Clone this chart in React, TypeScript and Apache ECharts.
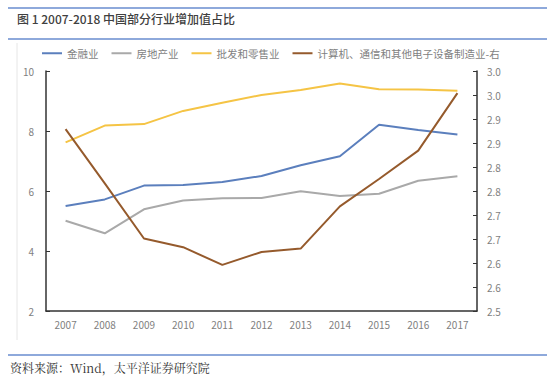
import React, { useEffect, useRef } from "react";
import * as echarts from "echarts";

const years = ["2007", "2008", "2009", "2010", "2011", "2012", "2013", "2014", "2015", "2016", "2017"];
const finance = [5.5, 5.72, 6.18, 6.2, 6.3, 6.5, 6.86, 7.16, 8.21, 8.03, 7.88];
const realEstate = [5.01, 4.59, 5.39, 5.68, 5.76, 5.77, 5.99, 5.83, 5.91, 6.34, 6.49];
const retail = [7.62, 8.18, 8.23, 8.67, 8.94, 9.2, 9.37, 9.58, 9.39, 9.38, 9.34];
const electronics = [2.879, 2.766, 2.651, 2.633, 2.596, 2.623, 2.63, 2.718, 2.775, 2.834, 2.954];

const seriesNames = ["金融业", "房地产业", "批发和零售业", "计算机、通信和其他电子设备制造业-右"];
const colors = ["#5B7FBD", "#A9A9A9", "#F5C445", "#955A2C"];

const FONT = "'Noto Sans CJK SC', 'Noto Sans', sans-serif";

export default function App() {
  const ref = useRef<HTMLDivElement>(null);
  useEffect(() => {
    if (!ref.current) return;
    const chart = echarts.init(ref.current, undefined, { renderer: "svg" });
    const mk = (i: number, data: number[], yAxisIndex: number) => ({
      name: seriesNames[i],
      type: "line",
      yAxisIndex,
      data,
      symbol: "none",
      lineStyle: { color: colors[i], width: 2 },
      itemStyle: { color: colors[i] },
    });
    chart.setOption({
      animation: false,
      backgroundColor: "#ffffff",
      textStyle: { fontFamily: FONT },
      legend: {
        left: 42,
        top: 48,
        padding: 0,
        icon: "rect",
        itemWidth: 20,
        itemHeight: 2,
        itemGap: 13,
        textStyle: { color: "#7F7F7F", fontSize: 10.5, fontFamily: FONT },
        data: seriesNames,
      },
      grid: { left: 46, right: 76, top: 71, bottom: 66 },
      xAxis: {
        type: "category",
        data: years,
        boundaryGap: true,
        axisLine: { lineStyle: { color: "#333333", width: 1.5 } },
        axisTick: { inside: true, length: 4, lineStyle: { color: "#333333" } },
        axisLabel: { color: "#7F7F7F", fontSize: 10, margin: 8, fontFamily: FONT },
        splitLine: { show: false },
      },
      yAxis: [
        {
          type: "value",
          min: 2,
          max: 10,
          interval: 2,
          axisLine: { show: true, lineStyle: { color: "#333333", width: 1.5 } },
          axisTick: { show: true, inside: true, length: 4, lineStyle: { color: "#333333" } },
          axisLabel: { color: "#7F7F7F", fontSize: 10, margin: 12, fontFamily: FONT },
          splitLine: { show: false },
        },
        {
          type: "value",
          min: 2.5,
          max: 3.0,
          interval: 0.05,
          position: "right",
          axisLine: { show: true, lineStyle: { color: "#333333", width: 1.5 } },
          axisTick: { show: true, inside: true, length: 4, lineStyle: { color: "#333333" } },
          axisLabel: {
            color: "#7F7F7F",
            fontSize: 10,
            margin: 10,
            fontFamily: FONT,
            formatter: (v: number) => (Math.round(v * 10 + 1e-9) / 10).toFixed(1),
          },
          splitLine: { show: false },
        },
      ],
      series: [
        mk(0, finance, 0),
        mk(1, realEstate, 0),
        mk(2, retail, 0),
        mk(3, electronics, 1),
      ],
      graphic: [
        { type: "line", shape: { x1: 8, y1: 8, x2: 547, y2: 8 }, style: { stroke: "#8EA9DB", lineWidth: 2 } },
        {
          type: "text",
          left: 17,
          top: 12,
          style: { text: "图 1 2007-2018 中国部分行业增加值占比", fill: "#404040", font: `500 12px ${FONT}` },
        },
        { type: "line", shape: { x1: 8, y1: 39, x2: 547, y2: 39 }, style: { stroke: "#8EA9DB", lineWidth: 2 } },
        { type: "line", shape: { x1: 17, y1: 43, x2: 17, y2: 340 }, style: { stroke: "#E6E6E6", lineWidth: 1 } },
        { type: "line", shape: { x1: 8, y1: 355, x2: 547, y2: 355 }, style: { stroke: "#8EA9DB", lineWidth: 2 } },
        {
          type: "text",
          left: 10,
          top: 361,
          style: { text: "资料来源：Wind，太平洋证券研究院", fill: "#333333", font: `12px 'Noto Serif CJK SC', 'DejaVu Serif', serif` },
        },
      ],
    });
    return () => chart.dispose();
  }, []);
  return <div ref={ref} style={{ width: 553, height: 377, position: "absolute", left: 0, top: 0 }} />;
}
